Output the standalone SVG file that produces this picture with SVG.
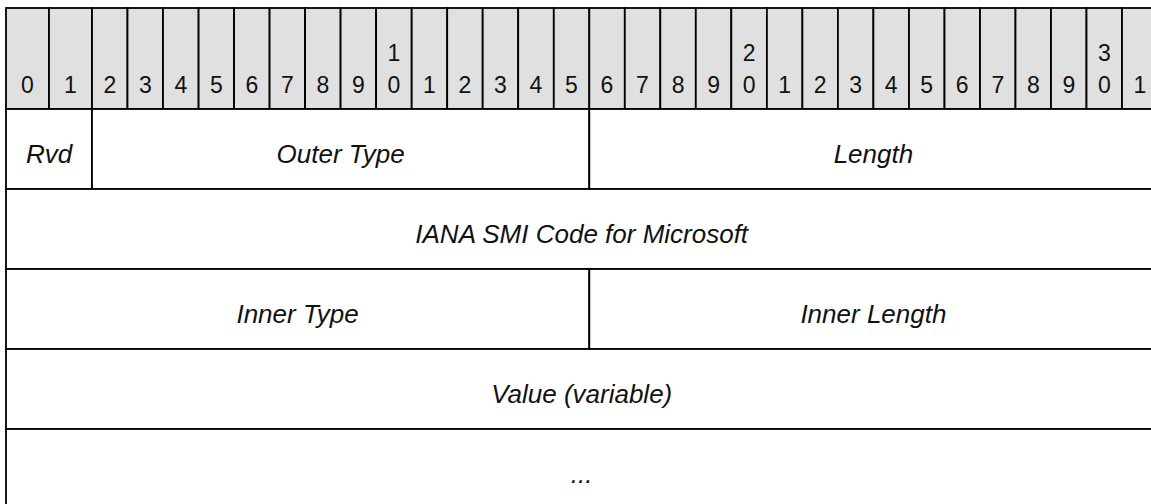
<svg xmlns="http://www.w3.org/2000/svg" width="1151" height="504" viewBox="0 0 1151 504">
<style>
.hc{fill:#e0e0e0;stroke:#000;stroke-width:1.8}
.hd{font-family:"Liberation Sans",Arial,sans-serif;font-size:23px;fill:#111;text-anchor:middle}
.fb{fill:#fff;stroke:#000;stroke-width:1.8}
.ft{font-family:"Liberation Sans",Arial,sans-serif;font-size:26px;font-style:italic;fill:#111;text-anchor:middle}
</style>
<rect width="1151" height="504" fill="#fff"/>
<g id="header">
<rect class="hc" x="6" y="8" width="43" height="101"/>
<rect class="hc" x="49" y="8" width="43" height="101"/>
<rect class="hc" x="92" y="8" width="35.5" height="101"/>
<rect class="hc" x="127.5" y="8" width="35.5" height="101"/>
<rect class="hc" x="163" y="8" width="35.6" height="101"/>
<rect class="hc" x="198.6" y="8" width="35.5" height="101"/>
<rect class="hc" x="234.1" y="8" width="35.5" height="101"/>
<rect class="hc" x="269.6" y="8" width="35.5" height="101"/>
<rect class="hc" x="305.1" y="8" width="35.5" height="101"/>
<rect class="hc" x="340.6" y="8" width="35.5" height="101"/>
<rect class="hc" x="376.1" y="8" width="35.6" height="101"/>
<rect class="hc" x="411.7" y="8" width="35.5" height="101"/>
<rect class="hc" x="447.2" y="8" width="35.5" height="101"/>
<rect class="hc" x="482.7" y="8" width="35.5" height="101"/>
<rect class="hc" x="518.2" y="8" width="35.6" height="101"/>
<rect class="hc" x="553.8" y="8" width="35.5" height="101"/>
<rect class="hc" x="589.3" y="8" width="35.5" height="101"/>
<rect class="hc" x="624.8" y="8" width="35.5" height="101"/>
<rect class="hc" x="660.3" y="8" width="35.5" height="101"/>
<rect class="hc" x="695.8" y="8" width="35.5" height="101"/>
<rect class="hc" x="731.3" y="8" width="35.6" height="101"/>
<rect class="hc" x="766.9" y="8" width="35.5" height="101"/>
<rect class="hc" x="802.4" y="8" width="35.5" height="101"/>
<rect class="hc" x="837.9" y="8" width="35.5" height="101"/>
<rect class="hc" x="873.4" y="8" width="35.6" height="101"/>
<rect class="hc" x="909" y="8" width="35.5" height="101"/>
<rect class="hc" x="944.5" y="8" width="35.5" height="101"/>
<rect class="hc" x="980" y="8" width="35.5" height="101"/>
<rect class="hc" x="1015.5" y="8" width="35.5" height="101"/>
<rect class="hc" x="1051" y="8" width="35.5" height="101"/>
<rect class="hc" x="1086.5" y="8" width="35.5" height="101"/>
<rect class="hc" x="1122" y="8" width="35.5" height="101"/>
<text class="hd" x="27.5" y="93">0</text>
<text class="hd" x="70.5" y="93">1</text>
<text class="hd" x="109.8" y="93">2</text>
<text class="hd" x="145.3" y="93">3</text>
<text class="hd" x="180.8" y="93">4</text>
<text class="hd" x="216.3" y="93">5</text>
<text class="hd" x="251.9" y="93">6</text>
<text class="hd" x="287.4" y="93">7</text>
<text class="hd" x="322.9" y="93">8</text>
<text class="hd" x="358.4" y="93">9</text>
<text class="hd" x="393.9" y="61">1</text>
<text class="hd" x="393.9" y="93">0</text>
<text class="hd" x="429.4" y="93">1</text>
<text class="hd" x="465" y="93">2</text>
<text class="hd" x="500.5" y="93">3</text>
<text class="hd" x="536" y="93">4</text>
<text class="hd" x="571.5" y="93">5</text>
<text class="hd" x="607" y="93">6</text>
<text class="hd" x="642.5" y="93">7</text>
<text class="hd" x="678.1" y="93">8</text>
<text class="hd" x="713.6" y="93">9</text>
<text class="hd" x="749.1" y="61">2</text>
<text class="hd" x="749.1" y="93">0</text>
<text class="hd" x="784.6" y="93">1</text>
<text class="hd" x="820.1" y="93">2</text>
<text class="hd" x="855.7" y="93">3</text>
<text class="hd" x="891.2" y="93">4</text>
<text class="hd" x="926.7" y="93">5</text>
<text class="hd" x="962.2" y="93">6</text>
<text class="hd" x="997.8" y="93">7</text>
<text class="hd" x="1033.3" y="93">8</text>
<text class="hd" x="1068.8" y="93">9</text>
<text class="hd" x="1104.3" y="61">3</text>
<text class="hd" x="1104.3" y="93">0</text>
<text class="hd" x="1139.8" y="93">1</text>
</g>
<g id="rvd">
<rect class="fb" x="6" y="109" width="86" height="80"/>
<text class="ft" x="49" y="163">Rvd</text>
</g>
<g id="outer-type">
<rect class="fb" x="92" y="109" width="497.3" height="80"/>
<text class="ft" x="340.6" y="163">Outer Type</text>
</g>
<g id="length">
<rect class="fb" x="589.3" y="109" width="568.2" height="80"/>
<text class="ft" x="873.4" y="163">Length</text>
</g>
<g id="iana-smi">
<rect class="fb" x="6" y="189" width="1151.5" height="80"/>
<text class="ft" x="581.7" y="243">IANA SMI Code for Microsoft</text>
</g>
<g id="inner-type">
<rect class="fb" x="6" y="269" width="583.3" height="80"/>
<text class="ft" x="297.6" y="323">Inner Type</text>
</g>
<g id="inner-length">
<rect class="fb" x="589.3" y="269" width="568.2" height="80"/>
<text class="ft" x="873.4" y="323">Inner Length</text>
</g>
<g id="value">
<rect class="fb" x="6" y="349" width="1151.5" height="80"/>
<text class="ft" x="581.7" y="403">Value (variable)</text>
</g>
<g id="more">
<rect class="fb" x="6" y="429" width="1151.5" height="80"/>
<text class="ft" x="581.7" y="483">...</text>
</g>
</svg>
